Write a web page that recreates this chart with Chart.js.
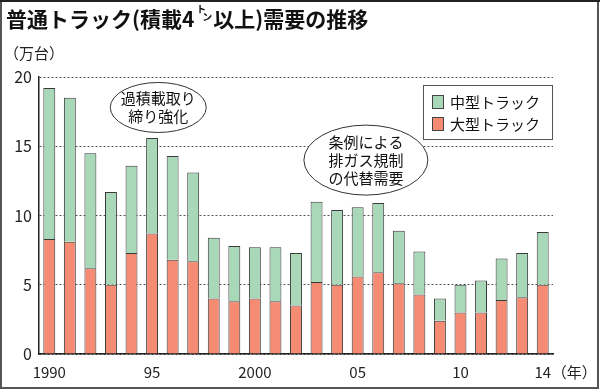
<!DOCTYPE html>
<html>
<head>
<meta charset="utf-8">
<script src="https://cdn.jsdelivr.net/npm/chart.js@4"></script>
<style>
  body { margin: 0; background: #fff; }
  canvas { display: block; }
</style>
</head>
<body>
<canvas id="truckChart" width="600" height="390"></canvas>
<script>
// 普通トラック需要（万台）
const categories = ['1990','1991','1992','1993','1994','1995','1996','1997','1998','1999',
  '2000','2001','2002','2003','2004','2005','2006','2007','2008','2009',
  '2010','2011','2012','2013','2014'];
const tickLabels = ['1990','','','','','95','','','','','2000','','','','','05','','','','','10','','','','14'];
const largeTrucks = [8.3, 8.1, 6.2, 5.0, 7.3, 8.7, 6.8, 6.7, 4.0, 3.8,
  4.0, 3.8, 3.5, 5.2, 5.0, 5.6, 5.9, 5.1, 4.3, 2.4,
  3.0, 3.0, 3.9, 4.1, 5.0];
const mediumTrucks = [10.9, 10.4, 8.3, 6.7, 6.3, 6.9, 7.5, 6.4, 4.4, 4.0,
  3.7, 3.9, 3.8, 5.8, 5.4, 5.0, 5.0, 3.8, 3.1, 1.6,
  2.0, 2.3, 3.0, 3.2, 3.8];

const FONT = "'Noto Sans CJK JP', 'Noto Sans', sans-serif";
const GREEN = '#a9d8b9';
const RED = '#f58b72';

// speech-bubble notes, placed in data coordinates (category index, value)
const notes = [
  { lines: ['過積載取り', '締り強化'], at: 5.3, value: 17.8, rx: 48, ry: 25 },
  { lines: ['条例による', '排ガス規制', 'の代替需要'], at: 15.4, value: 14.0, rx: 62, ry: 35 }
];

const extras = {
  id: 'extras',
  afterDraw(chart) {
    const ctx = chart.ctx;
    const xs = chart.scales.x, ys = chart.scales.y;
    ctx.save();

    // frame
    ctx.strokeStyle = '#555';
    ctx.lineWidth = 2;
    ctx.strokeRect(1, 1, 597, 387);
    ctx.fillStyle = '#222';
    ctx.fillRect(0, 0, 600, 2);

    // title with small "トン"
    ctx.fillStyle = '#111';
    ctx.textBaseline = 'alphabetic';
    ctx.textAlign = 'left';
    let x = 6;
    ctx.font = 'bold 21px ' + FONT;
    const part1 = '普通トラック(積載4';
    ctx.fillText(part1, x, 27);
    x += ctx.measureText(part1).width + 2;
    ctx.font = 'bold 10px ' + FONT;
    ctx.fillText('ト', x, 13);
    ctx.fillText('ン', x + 6, 21);
    x += 17;
    ctx.font = 'bold 21px ' + FONT;
    ctx.fillText('以上)需要の推移', x, 27);

    // unit label
    ctx.font = '15px ' + FONT;
    ctx.fillStyle = '#222';
    ctx.textBaseline = 'middle';
    ctx.fillText('（万台）', 4, 53);

    // year unit after last tick
    const lastX = xs.getPixelForTick(categories.length - 1);
    ctx.fillText('（年）', lastX + 9, 372);

    // notes
    notes.forEach(n => {
      const cx = xs.getPixelForValue(n.at);
      const cy = ys.getPixelForValue(n.value);
      ctx.beginPath();
      ctx.ellipse(cx, cy, n.rx, n.ry, 0, 0, Math.PI * 2);
      ctx.fillStyle = '#fff';
      ctx.fill();
      ctx.strokeStyle = '#333';
      ctx.lineWidth = 1;
      ctx.stroke();
      ctx.fillStyle = '#111';
      ctx.font = '15px ' + FONT;
      ctx.textAlign = 'center';
      const lh = 18;
      n.lines.forEach((t, i) => {
        ctx.fillText(t, cx, cy + (i - (n.lines.length - 1) / 2) * lh);
      });
    });

    // legend box (top-right of plot)
    const bx = 423, by = 85, bw = 129, bh = 54;
    ctx.fillStyle = '#fff';
    ctx.fillRect(bx, by, bw, bh);
    ctx.strokeStyle = '#555';
    ctx.lineWidth = 1;
    ctx.strokeRect(bx + 0.5, by + 0.5, bw, bh);
    const items = [chart.data.datasets[1], chart.data.datasets[0]];
    ctx.textAlign = 'left';
    ctx.font = '15px ' + FONT;
    items.forEach((ds, i) => {
      const iy = by + 16 + i * 22;
      ctx.fillStyle = ds.backgroundColor;
      ctx.fillRect(bx + 9, iy - 6, 11, 13);
      ctx.strokeStyle = '#444';
      ctx.strokeRect(bx + 9.5, iy - 5.5, 11, 13);
      ctx.fillStyle = '#111';
      ctx.fillText(ds.label, bx + 27, iy + 1);
    });

    ctx.restore();
  }
};

new Chart('truckChart', {
  type: 'bar',
  data: {
    labels: categories,
    datasets: [{
      label: '大型トラック',
      data: largeTrucks,
      backgroundColor: RED,
      borderColor: '#3a3a3a',
      borderWidth: 1,
      barPercentage: 0.58,
      categoryPercentage: 1
    }, {
      label: '中型トラック',
      data: mediumTrucks,
      backgroundColor: GREEN,
      borderColor: '#3a3a3a',
      borderWidth: 1,
      barPercentage: 0.58,
      categoryPercentage: 1
    }]
  },
  options: {
    responsive: false,
    animation: false,
    layout: { padding: { top: 77, right: 47, left: 0, bottom: 0 } },
    plugins: {
      legend: { display: false },
      tooltip: { enabled: false }
    },
    scales: {
      x: {
        stacked: true,
        grid: { drawOnChartArea: false, drawTicks: false },
        border: { color: '#222', width: 1.5 },
        ticks: {
          autoSkip: false,
          maxRotation: 0,
          padding: 9,
          color: '#222',
          font: { family: FONT, size: 15 },
          callback: (v, i) => tickLabels[i]
        },
        afterFit: s => { s.height = 36; }
      },
      y: {
        stacked: true,
        min: 0,
        max: 20,
        grid: { color: '#555', drawTicks: false, lineWidth: 1 },
        border: { color: '#222', width: 1.5, dash: [2, 2] },
        ticks: {
          stepSize: 5,
          padding: 7,
          color: '#222',
          font: { family: FONT, size: 16 }
        },
        afterFit: s => { s.width = 39; }
      }
    }
  },
  plugins: [extras]
});
</script>
</body>
</html>
